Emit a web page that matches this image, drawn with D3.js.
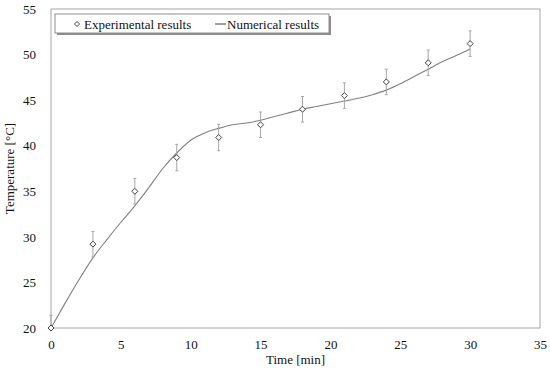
<!DOCTYPE html>
<html>
<head>
<meta charset="utf-8">
<script src="https://cdn.jsdelivr.net/npm/d3@7"></script>
<style>
  body { margin: 0; background: #fff; }
  svg text { font-family: 'Liberation Serif', 'DejaVu Serif', serif !important; }
</style>
</head>
<body>
<svg id="chart" width="550" height="372"></svg>
<script>
// Experimental measurements (with error bars)
const expTime = [0, 3, 6, 9, 12, 15, 18, 21, 24, 27, 30];
const expTemp = [20.0, 29.2, 35.0, 38.7, 40.9, 42.3, 44.0, 45.5, 47.0, 49.1, 51.2];
const expErr = [1.4, 1.4, 1.4, 1.45, 1.45, 1.4, 1.4, 1.4, 1.4, 1.4, 1.4];

// Numerical simulation curve
const numTime = [0, 1, 2, 3, 4, 5, 6, 7, 8, 9, 10, 11, 12, 13, 14, 15, 16, 17, 18, 19, 20, 21, 22, 23, 24, 25, 26, 27, 28, 29, 30];
const numTemp = [20.0, 22.7, 25.3, 27.7, 29.7, 31.6, 33.4, 35.4, 37.5, 39.2, 40.6, 41.4, 41.9, 42.3, 42.5, 42.8, 43.2, 43.6, 44.0, 44.3, 44.6, 44.9, 45.2, 45.6, 46.1, 46.8, 47.6, 48.4, 49.2, 49.9, 50.6];

const xTicks = [0, 5, 10, 15, 20, 25, 30, 35];
const yTicks = [20, 25, 30, 35, 40, 45, 50, 55];

const svg = d3.select("#chart");
const margin = { left: 51, right: 10, top: 9, bottom: 44 };
const W = 550, H = 372;

const x = d3.scaleLinear().domain([0, 35]).range([margin.left, W - margin.right]);
const y = d3.scaleLinear().domain([20, 55]).range([H - margin.bottom, margin.top]);

// plot area frame
svg.append("rect")
	.attr("x", x(0)).attr("y", y(55))
	.attr("width", x(35) - x(0)).attr("height", y(20) - y(55))
	.attr("fill", "none").attr("stroke", "#a6a6a6").attr("stroke-width", 1);

// axes (labels only)
const xAxis = svg.append("g")
	.attr("transform", `translate(0,${y(20)})`)
	.call(d3.axisBottom(x).tickValues(xTicks).tickSize(0).tickPadding(12));
const yAxis = svg.append("g")
	.attr("transform", `translate(${x(0)},0)`)
	.call(d3.axisLeft(y).tickValues(yTicks).tickSize(0).tickPadding(15));
[xAxis, yAxis].forEach((g) => {
	g.select(".domain").remove();
	g.selectAll("text").attr("font-size", 13).attr("fill", "#111");
});

// axis titles
svg.append("text")
	.attr("x", (x(0) + x(35)) / 2).attr("y", 364)
	.attr("text-anchor", "middle").attr("font-size", 13).attr("fill", "#111")
	.text("Time [min]");
svg.append("text")
	.attr("transform", `translate(14,${(y(20) + y(55)) / 2}) rotate(-90)`)
	.attr("text-anchor", "middle").attr("font-size", 13).attr("fill", "#111")
	.text("Temperature [°C]");

// numerical curve
const line = d3.line()
	.x((d, i) => x(numTime[i]))
	.y((d) => y(d))
	.curve(d3.curveMonotoneX);
svg.append("path")
	.datum(numTemp)
	.attr("d", line)
	.attr("fill", "none").attr("stroke", "#808080").attr("stroke-width", 1.1);

// error bars
const exp = expTime.map((t, i) => ({ t, v: expTemp[i], e: expErr[i] }));
const eb = svg.append("g").attr("stroke", "#a6a6a6").attr("stroke-width", 1);
eb.selectAll("line.v").data(exp).enter().append("line")
	.attr("x1", (d) => x(d.t)).attr("x2", (d) => x(d.t))
	.attr("y1", (d) => y(d.v + d.e)).attr("y2", (d) => Math.min(y(d.v - d.e), y(20)));
eb.selectAll("line.top").data(exp).enter().append("line")
	.attr("x1", (d) => x(d.t) - 1.5).attr("x2", (d) => x(d.t) + 1.5)
	.attr("y1", (d) => y(d.v + d.e)).attr("y2", (d) => y(d.v + d.e));
eb.selectAll("line.bot").data(exp.filter((d) => d.v - d.e > 20)).enter().append("line")
	.attr("x1", (d) => x(d.t) - 1.5).attr("x2", (d) => x(d.t) + 1.5)
	.attr("y1", (d) => y(d.v - d.e)).attr("y2", (d) => y(d.v - d.e));

// diamond markers
const diamond = "M0,-3L3,0L0,3L-3,0Z";
svg.selectAll("path.pt").data(exp).enter().append("path")
	.attr("class", "pt")
	.attr("d", diamond)
	.attr("transform", (d) => `translate(${x(d.t)},${y(d.v)})`)
	.attr("fill", "#fff").attr("stroke", "#404040").attr("stroke-width", 1);

// legend
const lg = svg.append("g");
lg.append("rect").attr("x", 57).attr("y", 16).attr("width", 274).attr("height", 19)
	.attr("fill", "#8c8c8c");
lg.append("rect").attr("x", 55).attr("y", 14).attr("width", 274).attr("height", 19)
	.attr("fill", "#fff").attr("stroke", "#8c8c8c").attr("stroke-width", 1);
lg.append("path").attr("d", "M0,-2.5L2.5,0L0,2.5L-2.5,0Z")
	.attr("transform", "translate(77,24)")
	.attr("fill", "#fff").attr("stroke", "#404040").attr("stroke-width", 1);
lg.append("text").attr("x", 84).attr("y", 28.5).attr("font-size", 13).attr("fill", "#111")
	.text("Experimental results");
lg.append("line").attr("x1", 215).attr("x2", 226).attr("y1", 24).attr("y2", 24)
	.attr("stroke", "#404040").attr("stroke-width", 1);
lg.append("text").attr("x", 227).attr("y", 28.5).attr("font-size", 13).attr("fill", "#111")
	.text("Numerical results");
</script>
</body>
</html>
